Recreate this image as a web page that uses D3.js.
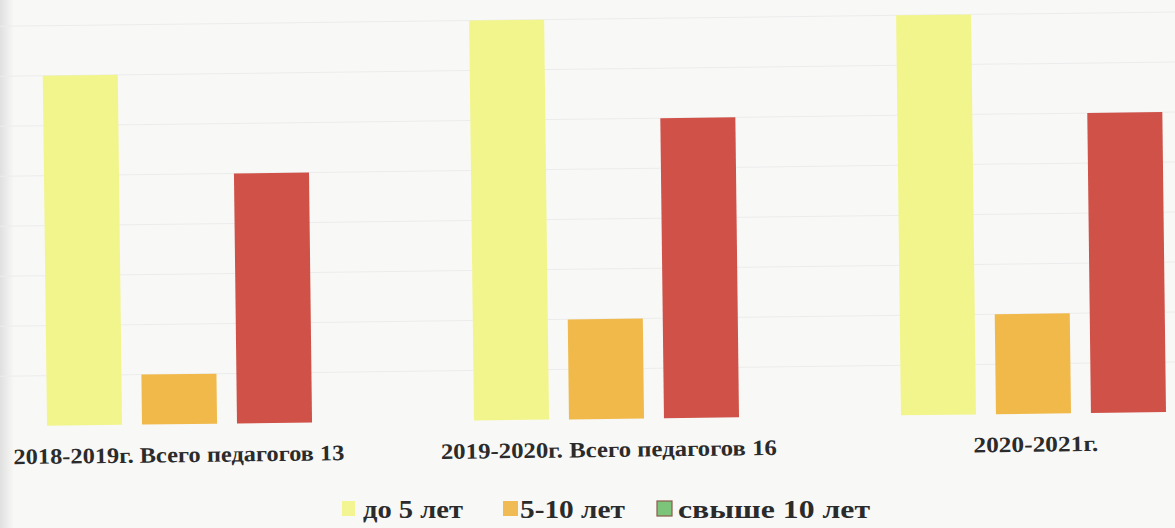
<!DOCTYPE html>
<html>
<head>
<meta charset="utf-8">
<script src="https://cdn.jsdelivr.net/npm/d3@7/dist/d3.min.js"></script>
<style>
  html, body { margin: 0; padding: 0; background: #f8f8f7; }
  svg { display: block; }
</style>
</head>
<body>
<script>
const categories = ["2018-2019г. Всего педагогов 13", "2019-2020г. Всего педагогов 16", "2020-2021г."];
const seriesNames = ["до 5 лет", "5-10 лет", "свыше 10 лет"];
const upTo5 = [7, 8, 8];
const from5to10 = [1, 2, 2];
const over10 = [5, 6, 6];
const yTicks = [0, 1, 2, 3, 4, 5, 6, 7, 8];

const barColors = ["#f2f58c", "#f0b94a", "#cf5148"];
const legendColors = ["#f3f592", "#f0bb55", "#7cc47a"];

const W = 1175, H = 528;
const svg = d3.select("body").append("svg").attr("width", W).attr("height", H);

svg.append("rect").attr("width", W).attr("height", H).attr("fill", "#f8f8f7");
const grad = svg.append("defs").append("linearGradient").attr("id", "edge");
grad.append("stop").attr("offset", "0").attr("stop-color", "#e0e0e0");
grad.append("stop").attr("offset", "1").attr("stop-color", "#f8f8f7");
svg.append("rect").attr("width", 14).attr("height", H).attr("fill", "url(#edge)");

const series = [upTo5, from5to10, over10];
const plotBottom = 419, plotTop = 19;

// the photographed page is slightly rotated
const main = svg.append("g").attr("transform", "rotate(-0.7, 600, 419)");

const x0 = d3.scaleBand().domain(categories).range([-34, 1247]).paddingInner(0).paddingOuter(0);
const x1 = d3.scaleBand().domain(seriesNames).range([x0.bandwidth() / 2 - 142.5, x0.bandwidth() / 2 + 142.5])
  .paddingInner(0.21).paddingOuter(0.105);
const y = d3.scaleLinear().domain([0, 8]).range([plotBottom, plotTop]);

// gridlines
main.append("g").selectAll("line").data(yTicks.slice(1)).join("line")
  .attr("x1", -20).attr("x2", W + 20)
  .attr("y1", d => y(d)).attr("y2", d => y(d))
  .attr("stroke", "#ececec").attr("stroke-width", 1);

// bars
const groups = main.append("g").selectAll("g").data(categories).join("g")
  .attr("transform", c => `translate(${x0(c)},0)`);
groups.selectAll("rect").data((c, i) => seriesNames.map((s, j) => ({ s, j, v: series[j][i] })))
  .join("rect")
  .attr("x", d => x1(d.s))
  .attr("width", x1.bandwidth())
  .attr("y", d => y(d.v))
  .attr("height", d => y(0) - y(d.v))
  .attr("fill", d => barColors[d.j]);

// category labels
const labelWidths = [331, 336, 125];
main.append("g").selectAll("text").data(categories).join("text")
  .attr("x", (c, i) => x0(c) + x0.bandwidth() / 2 + [-1, 2, 2][i])
  .attr("y", 457)
  .attr("text-anchor", "middle")
  .attr("font-family", "'Liberation Serif', 'Times New Roman', serif")
  .attr("font-weight", "bold")
  .attr("font-size", 22)
  .attr("fill", "#2b2b2b")
  .attr("textLength", (c, i) => labelWidths[i])
  .attr("lengthAdjust", "spacingAndGlyphs")
  .text(c => c);

// legend
const legendX = [342, 503, 657];
const legendTextW = [100, 105, 192];
const lg = svg.append("g").selectAll("g").data(seriesNames).join("g")
  .attr("transform", (s, i) => `translate(${legendX[i]},0)`);
lg.append("rect")
  .attr("x", 0).attr("y", 501).attr("width", (s, i) => i === 0 ? 13 : 15).attr("height", 15)
  .attr("fill", (s, i) => legendColors[i])
  .attr("stroke", (s, i) => i === 2 ? "#8a5a4a" : "none")
  .attr("stroke-width", 1.2);
lg.append("text")
  .attr("x", (s, i) => [21, 17, 21][i]).attr("y", 518)
  .attr("font-family", "'Liberation Serif', 'Times New Roman', serif")
  .attr("font-weight", "bold")
  .attr("font-size", 25)
  .attr("fill", "#2b2b2b")
  .attr("textLength", (s, i) => legendTextW[i])
  .attr("lengthAdjust", "spacingAndGlyphs")
  .text(s => s);
</script>
</body>
</html>
